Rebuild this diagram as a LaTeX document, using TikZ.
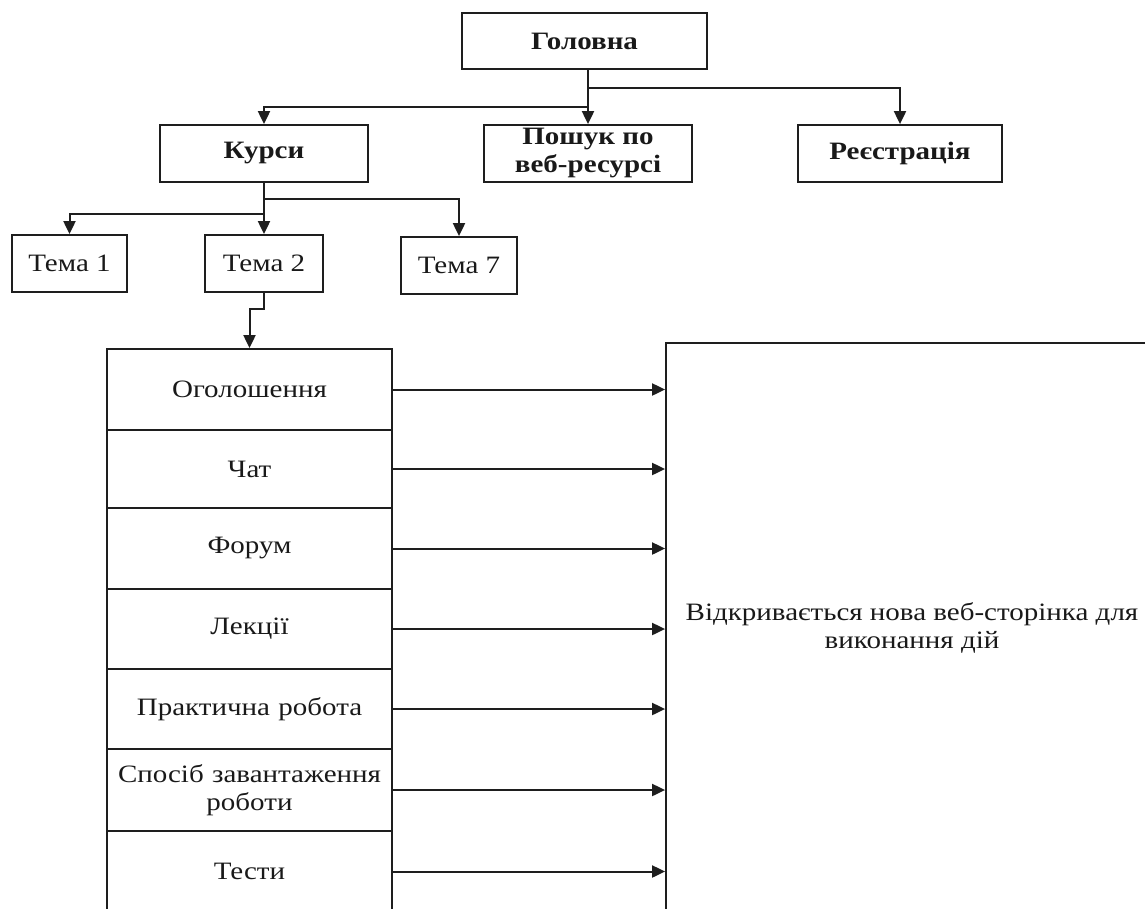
\documentclass[tikz,border=0pt]{standalone}
\usepackage{fontspec}
\setmainfont[FakeStretch=1.16]{Liberation Serif}
\usetikzlibrary{arrows.meta}
\definecolor{ink}{RGB}{30,30,30}
\begin{document}
\begin{tikzpicture}[x=1pt,y=-1pt,
  every node/.style={font=\fontsize{25}{28}\selectfont, text=black!90},
  box/.style={draw=ink, line width=1.8pt, minimum height=57pt, inner sep=0pt, align=center},
  bbox/.style={box, font=\fontsize{25}{28}\selectfont\bfseries},
  row/.style={draw=ink, line width=1.8pt, minimum width=285pt, inner sep=0pt, align=center, text width=283pt},
  arr/.style={draw=ink, line width=2pt, -{Triangle[length=13pt,width=12pt]}}]
\useasboundingbox (0,0) rectangle (1145,908);
\clip (0,0) rectangle (1145,908);
% top level
\node[bbox, minimum width=245pt, minimum height=56pt] (golovna) at (584.5,41) {Головна};
\node[bbox, minimum width=208pt] (kursy) at (264,153.5) {Курси};
\node[bbox, minimum width=208pt] (poshuk) at (588,153.5) {Пошук по\\веб-ресурсі};
\node[bbox, minimum width=204pt] (reyestr) at (900,153.5) {Реєстрація};
% topics
\node[box, minimum width=115pt] (t1) at (69.5,263.5) {Тема 1};
\node[box, minimum width=118pt] (t2) at (264,263.5) {Тема 2};
\node[box, minimum width=116pt] (t7) at (459,265.5) {Тема 7};
% list
\node[row, minimum height=81pt] (r1) at (249.5,389.5) {Оголошення};
\node[row, minimum height=78pt] (r2) at (249.5,469) {Чат};
\node[row, minimum height=81pt] (r3) at (249.5,548.5) {Форум};
\node[row, minimum height=80pt] (r4) at (249.5,629) {Лекції};
\node[row, minimum height=80pt] (r5) at (249.5,709) {Практична робота};
\node[row, minimum height=82pt] (r6) at (249.5,790) {Спосіб завантаження\\роботи};
\node[row, minimum height=81pt] (r7) at (249.5,871.5) {Тести};
% page
\node[draw=ink, line width=1.8pt, minimum width=492pt, minimum height=570pt, inner sep=0pt, align=center] (page) at (912,628) {Відкривається нова веб-сторінка для\\виконання дій};
% connectors
\coordinate (gb) at (poshuk.north |- golovna.south);
\coordinate (jr) at (0,88);
\coordinate (jl) at (0,107);
\draw[arr] (gb) -- (poshuk.north);
\draw[arr] (gb) -- (gb |- jr) -| (reyestr.north);
\draw[arr] (gb) -- (gb |- jl) -| (kursy.north);
\coordinate (kr) at (0,199);
\coordinate (kl) at (0,214);
\coordinate (tb) at (0,309);
\draw[arr] (kursy.south) -- (t2.north);
\draw[arr] (kursy.south) -- (kursy.south |- kr) -| (t7.north);
\draw[arr] (kursy.south) -- (kursy.south |- kl) -| (t1.north);
\draw[arr] (t2.south) -- (t2.south |- tb) -| (r1.north);
\foreach \r in {r1,r2,r3,r4,r5,r6,r7}
  \draw[arr] (\r.east) -- (\r.east -| page.west);
\end{tikzpicture}
\end{document}
